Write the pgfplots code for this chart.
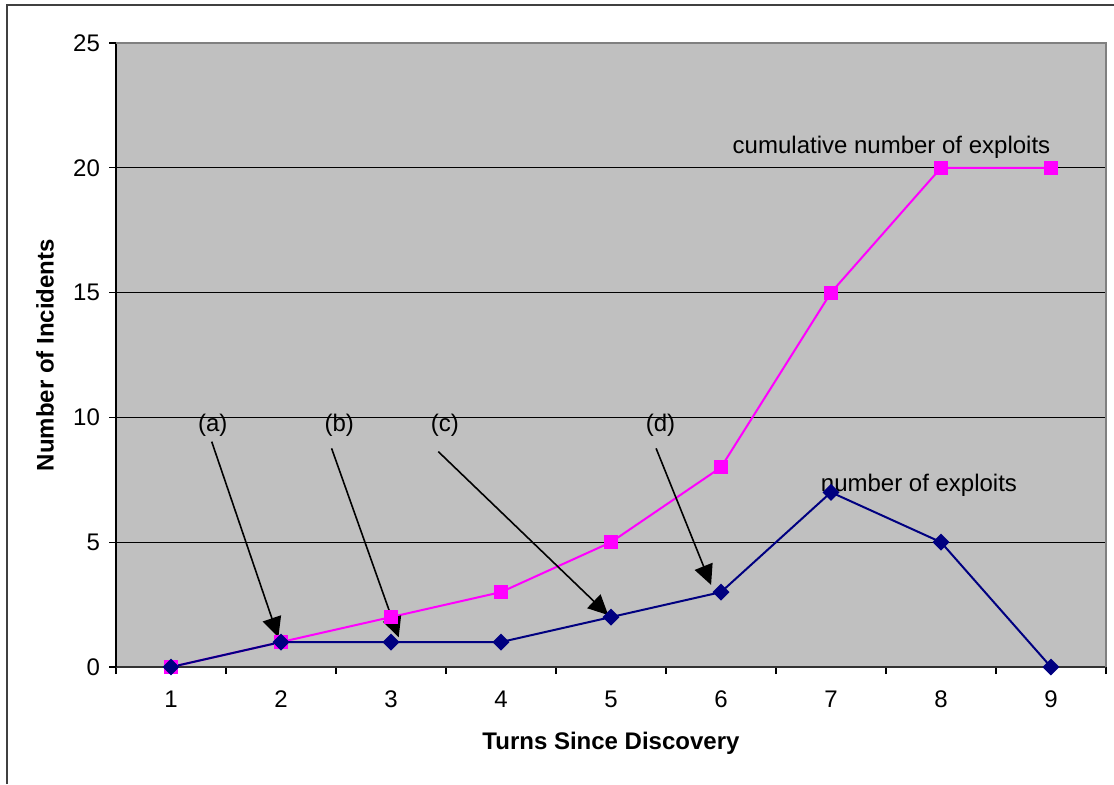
\documentclass[border=0pt]{standalone}
\usepackage{pgfplots}
\pgfplotsset{compat=1.18}
\usepackage{fontspec}
\setmainfont{Liberation Sans}
\usetikzlibrary{arrows.meta}

\definecolor{plotbg}{HTML}{C0C0C0}
\definecolor{cumcol}{HTML}{FF00FF}
\definecolor{numcol}{HTML}{000080}
\definecolor{frame}{HTML}{808080}

\begin{document}
\begin{tikzpicture}
\useasboundingbox (0,0) rectangle (557pt,392pt);
% chart frame (cropped: only left and top visible)
\draw[line width=1pt, black!75] (3.5pt,0) -- (3.5pt,389.5pt) -- (557pt,389.5pt);

\begin{axis}[
    at={(58pt,58.5pt)}, anchor=south west,
    scale only axis,
    width=495pt, height=312pt,
    xmin=0.5, xmax=9.5,
    ymin=0, ymax=25,
    xtick={1,...,9},
    minor xtick={0.5,1.5,...,9.5},
    ytick={0,5,...,25},
    tick align=outside,
    major tick length=3.5pt,
    minor tick length=3.5pt,
    major x tick style={draw=none},
    ymajorgrids,
    grid style={black, line width=0.5pt},
    axis x line*=bottom,
    axis y line*=left,
    x axis line style={-, black!80, line width=1pt},
    y axis line style={-, black, line width=0.6pt},
    tick style={black, line width=0.6pt},
    axis background/.style={fill=plotbg},
    /pgf/number format/assume math mode=true,
    ticklabel style={font=\fontsize{12}{14}\selectfont},
    xticklabel style={yshift=-5pt},
    yticklabel style={xshift=-1pt},
    xlabel={Turns Since Discovery},
    ylabel={Number of Incidents},
    xlabel style={font=\fontsize{12}{14}\selectfont\bfseries, at={(axis description cs:0.5,-0.122)}, anchor=center},
    ylabel style={font=\fontsize{12}{14}\selectfont\bfseries, at={(axis description cs:-0.0717,0.5)}, anchor=center},
    clip=false,
]
\addplot[cumcol, line width=1pt, mark=square*, mark size=3pt, mark options={solid, fill=cumcol, draw=cumcol}]
  coordinates {(1,0) (2,1) (3,2) (4,3) (5,5) (6,8) (7,15) (8,20) (9,20)};
\addplot[numcol, line width=1pt, mark=square*, mark size=2.5pt, mark options={solid, rotate=45, fill=numcol, draw=numcol}]
  coordinates {(1,0) (2,1) (3,1) (4,1) (5,2) (6,3) (7,7) (8,5) (9,0)};

% plot area border (top and right)
\draw[frame, line width=1pt] (rel axis cs:0,1) -- (rel axis cs:1,1) -- (rel axis cs:1,0);

% series labels
\node[font=\fontsize{12}{14}\selectfont] at (axis cs:7.55,20.83) {cumulative number of exploits};
\node[font=\fontsize{12}{14}\selectfont] at (axis cs:7.8,7.29) {number of exploits};

% annotations
\begin{scope}[font=\fontsize{12}{14}\selectfont]
\node at (axis cs:1.38,9.7) {(a)};
\node at (axis cs:2.53,9.7) {(b)};
\node at (axis cs:3.49,9.7) {(c)};
\node at (axis cs:5.45,9.7) {(d)};
\end{scope}
\begin{scope}[line width=0.8pt, -{Triangle[length=10pt,width=9.5pt]}]
\draw (axis cs:1.37,9.03) -- (axis cs:1.976,1.19);
\draw (axis cs:2.46,8.76) -- (axis cs:3.07,1.19);
\draw (axis cs:3.43,8.63) -- (axis cs:4.975,2.08);
\draw (axis cs:5.41,8.76) -- (axis cs:5.91,3.29);
\end{scope}
\end{axis}
\end{tikzpicture}
\end{document}
